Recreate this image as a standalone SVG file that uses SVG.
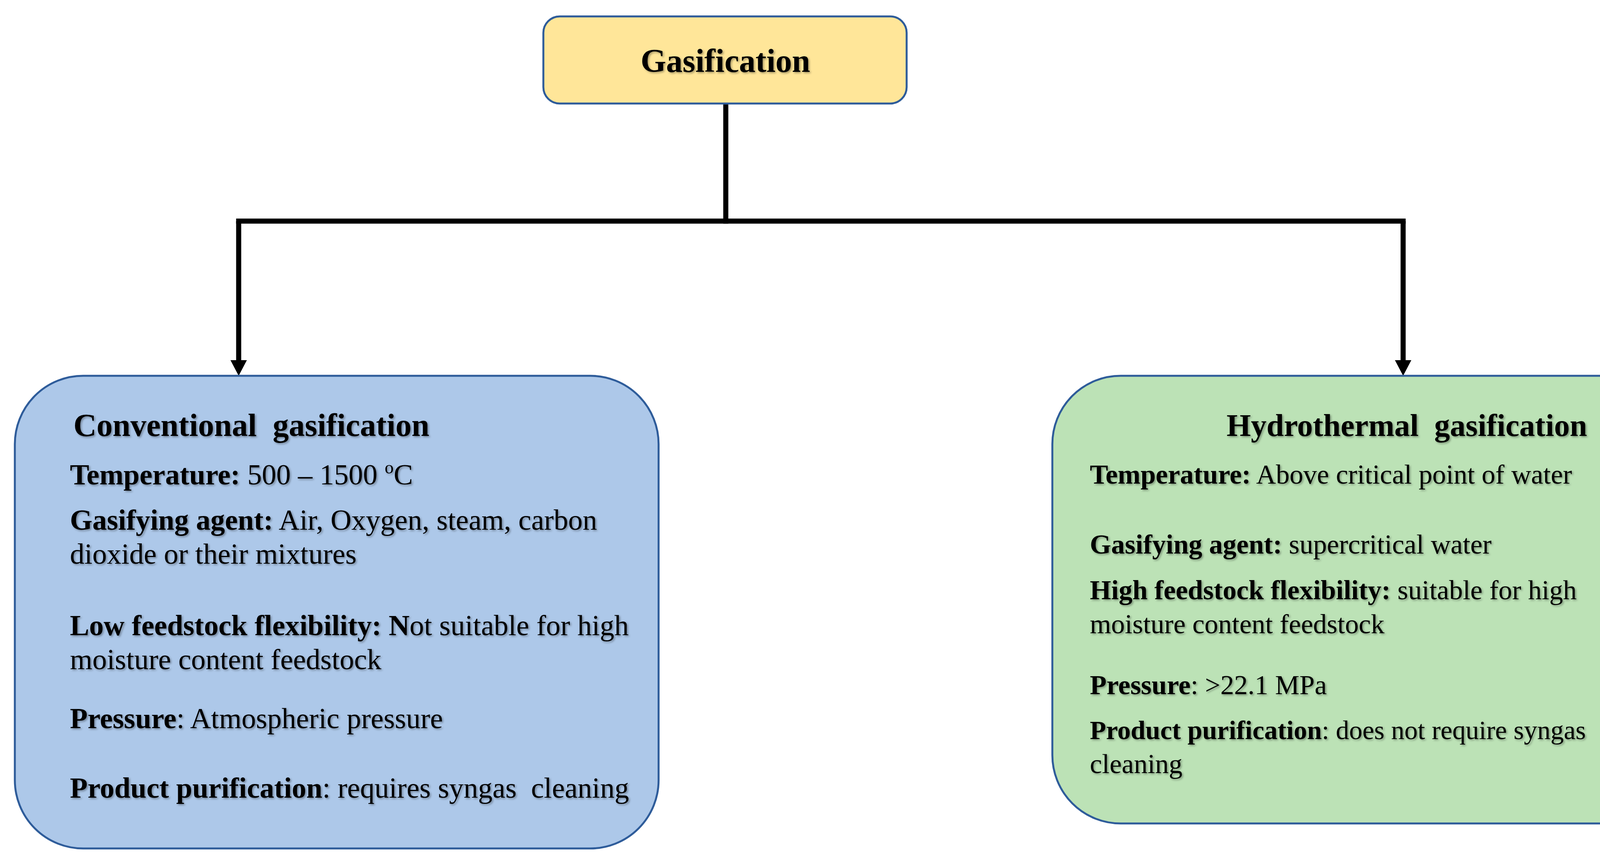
<svg xmlns="http://www.w3.org/2000/svg" width="4364" height="2199" viewBox="0 0 4364 2199">
<style>
  .box { stroke: #2E5C9A; stroke-width: 5; }
  .t { font-family: "Liberation Serif", "Times New Roman", serif; fill: #000; white-space: pre; }
  .body { font-size: 74px; }
  .rbody { font-size: 70px; }
  .title { font-size: 82px; font-weight: bold; }
  .b { font-weight: bold; }
  .conn { fill: none; stroke: #000; stroke-width: 13; stroke-linecap: square; stroke-linejoin: miter; }
</style>
<defs>
  <filter id="sh" x="-5%" y="-20%" width="110%" height="140%">
    <feDropShadow dx="3" dy="3" stdDeviation="2.5" flood-color="#000" flood-opacity="0.35"/>
  </filter>
  <marker id="arr" markerUnits="userSpaceOnUse" viewBox="0 0 40 42" refX="0" refY="21" markerWidth="40" markerHeight="42" orient="auto">
    <path d="M0,0 L40,21 L0,42 Z" fill="#000"/>
  </marker>
</defs>
<rect width="4364" height="2199" fill="#fff"/>

<g id="connectors">
  <path class="conn" d="M1858,265 V566"/>
  <path class="conn" d="M611,566 H3592"/>
  <path class="conn" style="stroke-linecap:butt" d="M611,566 V922" marker-end="url(#arr)"/>
  <path class="conn" style="stroke-linecap:butt" d="M3592,566 V922" marker-end="url(#arr)"/>
</g>

<g id="gasification">
  <rect class="box" x="1391" y="42" width="930" height="223" rx="42" fill="#FFE699"/>
  <text class="t b" x="1857" y="184" font-size="84" text-anchor="middle" filter="url(#sh)">Gasification</text>
</g>

<g id="conventional">
  <rect class="box" x="38" y="962" width="1648" height="1210" rx="175" fill="#ADC8E9"/>
  <g filter="url(#sh)">
    <text class="t title" x="188" y="1116">Conventional  gasification</text>
    <text class="t body" x="179" y="1240"><tspan class="b">Temperature:</tspan> 500 – 1500 <tspan font-size="46" dy="-28">o</tspan><tspan dy="28">C</tspan></text>
    <text class="t body" x="179" y="1356"><tspan class="b">Gasifying agent:</tspan> Air, Oxygen, steam, carbon</text>
    <text class="t body" x="179" y="1443">dioxide or their mixtures</text>
    <text class="t body" x="179" y="1626"><tspan class="b">Low feedstock flexibility: N</tspan>ot suitable for high</text>
    <text class="t body" x="179" y="1713">moisture content feedstock</text>
    <text class="t body" x="179" y="1864"><tspan class="b">Pressure</tspan>: Atmospheric pressure</text>
    <text class="t body" x="179" y="2042"><tspan class="b">Product purification</tspan>: requires syngas  cleaning</text>
  </g>
</g>

<g id="hydrothermal">
  <rect class="box" x="2694" y="962" width="1639" height="1146" rx="175" fill="#BCE2B6"/>
  <g filter="url(#sh)">
    <text class="t b" x="3140" y="1116" font-size="80">Hydrothermal  gasification</text>
    <text class="t rbody" x="2790" y="1238"><tspan class="b">Temperature:</tspan> Above critical point of water</text>
    <text class="t rbody" x="2790" y="1417"><tspan class="b">Gasifying agent:</tspan> supercritical water</text>
    <text class="t rbody" x="2790" y="1534"><tspan class="b">High feedstock flexibility:</tspan> suitable for high</text>
    <text class="t rbody" x="2790" y="1621">moisture content feedstock</text>
    <text class="t rbody" x="2790" y="1777"><tspan class="b">Pressure</tspan>: &gt;22.1 MPa</text>
    <text class="t" x="2790" y="1892" font-size="68"><tspan class="b">Product purification</tspan>: does not require syngas</text>
    <text class="t rbody" x="2790" y="1979">cleaning</text>
  </g>
</g>
</svg>
